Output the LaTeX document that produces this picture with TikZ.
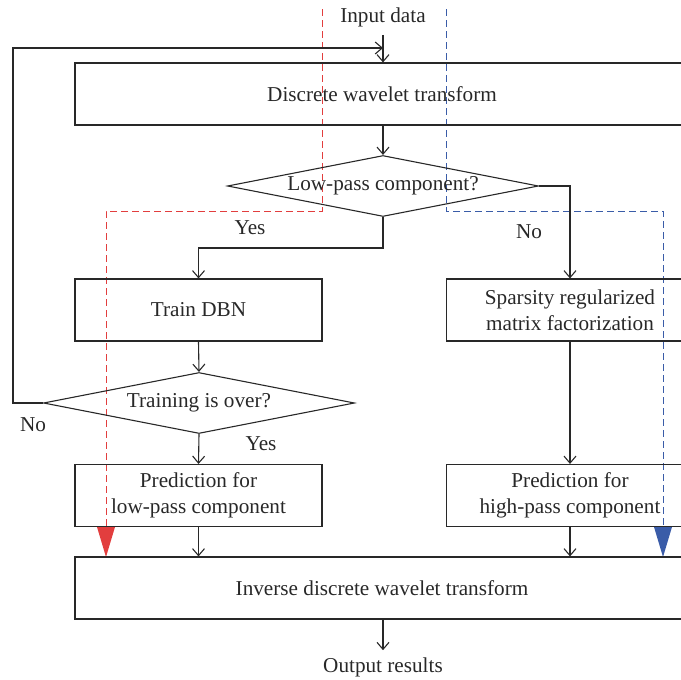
\documentclass[tikz,border=0pt]{standalone}
\usepackage{fontspec}
\setmainfont{Liberation Serif}
\usetikzlibrary{shapes.geometric,arrows.meta}
\definecolor{myred}{RGB}{226,62,62}
\definecolor{myblue}{RGB}{58,92,168}
\definecolor{ink}{RGB}{40,40,40}
\begin{document}
\begin{tikzpicture}[x=1pt,y=-1pt,
  txt/.style={font=\fontsize{21.2}{26.5}\selectfont,text=ink},
  box/.style={txt,draw=ink,line width=1.1pt,rectangle,inner sep=0pt,align=center},
  dia/.style={txt,draw=ink,line width=1.1pt,diamond,inner sep=0pt,aspect=5,minimum width=311pt,minimum height=61pt},
  conn/.style={draw=ink,line width=1.1pt,-{Straight Barb[length=7pt,width=12pt]}},
  lab/.style={txt,inner sep=0pt},
  redpath/.style={myred,line width=1pt,dash pattern=on 7pt off 4pt},
  bluepath/.style={myblue,line width=1pt,dash pattern=on 7pt off 4pt}]
\useasboundingbox (0,0) rectangle (681,680);
\clip (0,0) rectangle (681,680);

% dashed paths
\draw[redpath] (322,9) -- (322,211) -- (106,211) -- (106,527);
\fill[myred] (97,527) -- (115,527) -- (106,557) -- cycle;
\draw[bluepath] (446,9) -- (446,211) -- (663,211) -- (663,527);
\fill[myblue] (654,527) -- (672,527) -- (663,557) -- cycle;

% nodes
\node[lab] (in) at (383,17) {Input data};
\node[box,minimum width=614pt,minimum height=62pt] (dwt) at (382,94) {Discrete wavelet transform};
\node[dia] (lp) at (383,186) {Low-pass component?};
\node[box,minimum width=247pt,minimum height=62pt] (dbn) at (198.5,310) {Train DBN};
\node[box,minimum width=247pt,minimum height=62pt] (srmf) at (570,310) {Sparsity regularized\\matrix factorization};
\node[dia] (tr) at (199,403) {Training is over?};
\node[box,minimum width=247pt,minimum height=62pt] (plow) at (198.5,495.5) {Prediction for\\low-pass component};
\node[box,minimum width=247pt,minimum height=62pt] (phigh) at (570,495.5) {Prediction for\\high-pass component};
\node[box,minimum width=614pt,minimum height=62pt] (idwt) at (382,588) {Inverse discrete wavelet transform};
\node[lab] (out) at (383,667) {Output results};

% labels
\node[lab] (yes1) at (250,228) {Yes};
\node[lab] (no1) at (529,232) {No};
\node[lab] (no2) at (33,425) {No};
\node[lab] (yes2) at (261,444) {Yes};

% connectors
\draw[conn] ([yshift=-8pt]in.south) -- (in.south |- dwt.north);
\draw[conn] (lp.north |- dwt.south) -- (lp.north);
\draw[conn] (lp.south) -- (383,248) -| (dbn.north);
\draw[conn] (lp.east) -| (srmf.north);
\draw[conn] (dbn.south) -- (tr.north);
\draw[conn] (tr.west) -- (13,403) -- (13,48) -- (in.south |- 0,48);
\draw[conn] (tr.south) -- (plow.north);
\draw[conn] (srmf.south) -- (phigh.north);
\draw[conn] (plow.south) -- (plow.south |- idwt.north);
\draw[conn] (phigh.south) -- (phigh.south |- idwt.north);
\draw[conn] (out.north |- idwt.south) -- ([yshift=7pt]out.north);
\end{tikzpicture}
\end{document}
